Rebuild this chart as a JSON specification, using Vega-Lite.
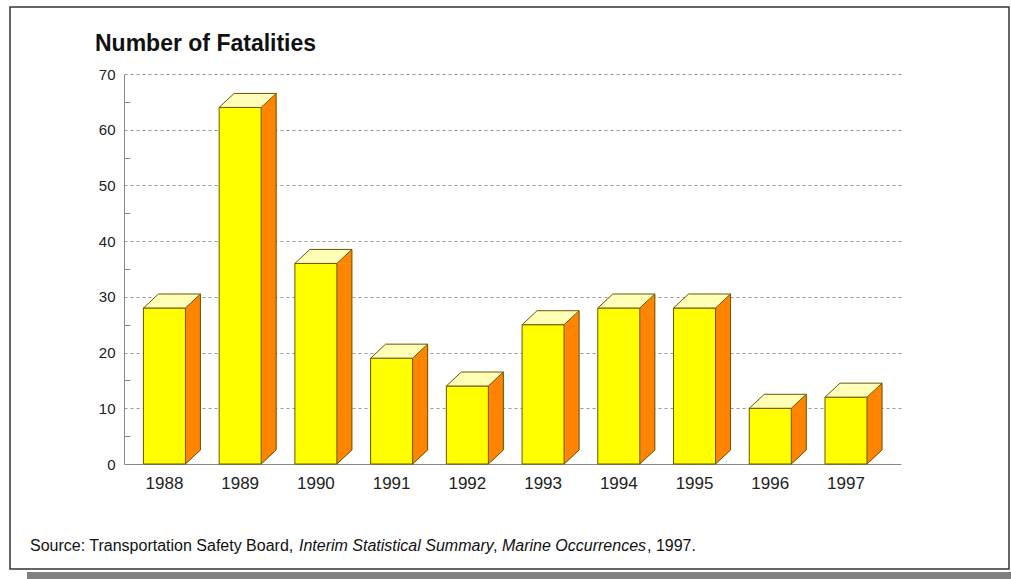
{
  "$schema": "https://vega.github.io/schema/vega-lite/v6.json",
  "description": "Marine fatalities per year, 1988-1997, drawn as extruded 3D bars.",
  "autosize": "none",
  "width": 777,
  "height": 390,
  "padding": {"left": 124, "top": 74, "right": 110, "bottom": 115},
  "background": "white",
  "config": {"view": {"stroke": null}, "font": "Liberation Sans"},
  "layer": [
    {
      "data": {"values": [{}]},
      "mark": {"type": "rect", "fill": "#808080"},
      "encoding": {
        "x": {"value": -97}, "x2": {"value": 887},
        "y": {"value": 498}, "y2": {"value": 505}
      }
    },
    {
      "data": {"values": [{}]},
      "mark": {"type": "rect", "filled": false, "fillOpacity": 0, "stroke": "#333333", "strokeWidth": 1.5, "opacity": 1},
      "encoding": {
        "x": {"value": -114}, "x2": {"value": 885},
        "y": {"value": -67}, "y2": {"value": 495}
      }
    },
    {
      "data": {
        "values": [
          {"year": "1988", "fatalities": 28},
          {"year": "1989", "fatalities": 64},
          {"year": "1990", "fatalities": 36},
          {"year": "1991", "fatalities": 19},
          {"year": "1992", "fatalities": 14},
          {"year": "1993", "fatalities": 25},
          {"year": "1994", "fatalities": 28},
          {"year": "1995", "fatalities": 28},
          {"year": "1996", "fatalities": 10},
          {"year": "1997", "fatalities": 12}
        ]
      },
      "encoding": {
        "x": {
          "field": "year",
          "type": "nominal",
          "scale": {"type": "band", "paddingInner": 0, "paddingOuter": 0.13, "align": 0.13},
          "axis": {
            "title": null,
            "labelAngle": 0,
            "ticks": false,
            "grid": false,
            "domainColor": "#888888",
            "labelFont": "Liberation Sans",
            "labelFontSize": 17,
            "labelColor": "#222222",
            "labelPadding": 11
          }
        },
        "y": {
          "field": "fatalities",
          "type": "quantitative",
          "scale": {"domain": [0, 70], "nice": false},
          "axis": {
            "title": null,
            "values": [0, 5, 10, 15, 20, 25, 30, 35, 40, 45, 50, 55, 60, 65, 70],
            "labelExpr": "datum.value % 10 === 0 ? datum.label : ''",
            "labelFont": "Liberation Sans",
            "labelFontSize": 15,
            "labelColor": "#222222",
            "labelPadding": 15,
            "domainColor": "#888888",
            "ticks": true,
            "tickSize": -6,
            "tickColor": "#888888",
            "tickOpacity": {"condition": {"test": "datum.value % 10 === 0", "value": 0}, "value": 1},
            "grid": true,
            "gridColor": "#999999",
            "gridDash": [3, 3],
            "gridOpacity": {"condition": {"test": "datum.value % 10 !== 0 || datum.value === 0", "value": 0}, "value": 1}
          }
        }
      },
      "layer": [
        {
          "mark": {"type": "bar", "width": 15, "xOffset": 28.5, "y2Offset": -14, "fill": "#ff8400", "stroke": "#ff8400", "strokeWidth": 0.5},
          "encoding": {"y2": {"datum": 0}}
        },
        {
          "mark": {"type": "point", "shape": "M21,0L36,-14L36,0Z", "size": 4, "filled": true, "opacity": 1, "fill": "#ff8400", "stroke": "#ff8400", "strokeWidth": 0.5}
        },
        {
          "mark": {"type": "point", "shape": "M21,0L21,-14L36,-14Z", "size": 4, "filled": true, "opacity": 1, "fill": "#ff8400", "stroke": "#ff8400", "strokeWidth": 0.5},
          "encoding": {"y": {"datum": 0, "type": "quantitative"}}
        },
        {
          "mark": {"type": "bar", "width": 42, "fill": "#ffff00", "stroke": "#6b5500", "strokeWidth": 1}
        },
        {
          "mark": {"type": "point", "shape": "M-21,0L21,0L36,-14L-6,-14Z", "size": 4, "filled": true, "opacity": 1, "fill": "#ffffb8", "stroke": "#6b5500", "strokeWidth": 1}
        },
        {
          "mark": {"type": "rule", "xOffset": 36, "yOffset": -14, "y2Offset": -14, "stroke": "#6b5500", "strokeWidth": 1},
          "encoding": {"y2": {"datum": 0}}
        },
        {
          "mark": {"type": "point", "shape": "M21,0L36,-14", "size": 4, "filled": false, "opacity": 1, "fill": null, "stroke": "#6b5500", "strokeWidth": 1},
          "encoding": {"y": {"datum": 0, "type": "quantitative"}}
        }
      ]
    },
    {
      "data": {"values": [{}]},
      "mark": {"type": "text", "text": "Number of Fatalities", "font": "Liberation Sans", "fontSize": 23, "fontWeight": "bold", "align": "left", "baseline": "alphabetic", "color": "#111111"},
      "encoding": {"x": {"value": -29}, "y": {"value": -23}}
    },
    {
      "data": {"values": [{}]},
      "mark": {"type": "text", "text": "Source: Transportation Safety Board,", "font": "Liberation Sans", "fontSize": 16, "align": "left", "baseline": "alphabetic", "color": "#111111"},
      "encoding": {"x": {"value": -94}, "y": {"value": 477}}
    },
    {
      "data": {"values": [{}]},
      "mark": {"type": "text", "text": "Interim Statistical Summary", "font": "Liberation Sans", "fontSize": 16, "fontStyle": "italic", "align": "left", "baseline": "alphabetic", "color": "#111111"},
      "encoding": {"x": {"value": 175}, "y": {"value": 477}}
    },
    {
      "data": {"values": [{}]},
      "mark": {"type": "text", "text": ",", "font": "Liberation Sans", "fontSize": 16, "align": "left", "baseline": "alphabetic", "color": "#111111"},
      "encoding": {"x": {"value": 369}, "y": {"value": 477}}
    },
    {
      "data": {"values": [{}]},
      "mark": {"type": "text", "text": "Marine Occurrences", "font": "Liberation Sans", "fontSize": 16, "fontStyle": "italic", "align": "left", "baseline": "alphabetic", "color": "#111111"},
      "encoding": {"x": {"value": 378}, "y": {"value": 477}}
    },
    {
      "data": {"values": [{}]},
      "mark": {"type": "text", "text": ", 1997.", "font": "Liberation Sans", "fontSize": 16, "align": "left", "baseline": "alphabetic", "color": "#111111"},
      "encoding": {"x": {"value": 523}, "y": {"value": 477}}
    }
  ]
}
